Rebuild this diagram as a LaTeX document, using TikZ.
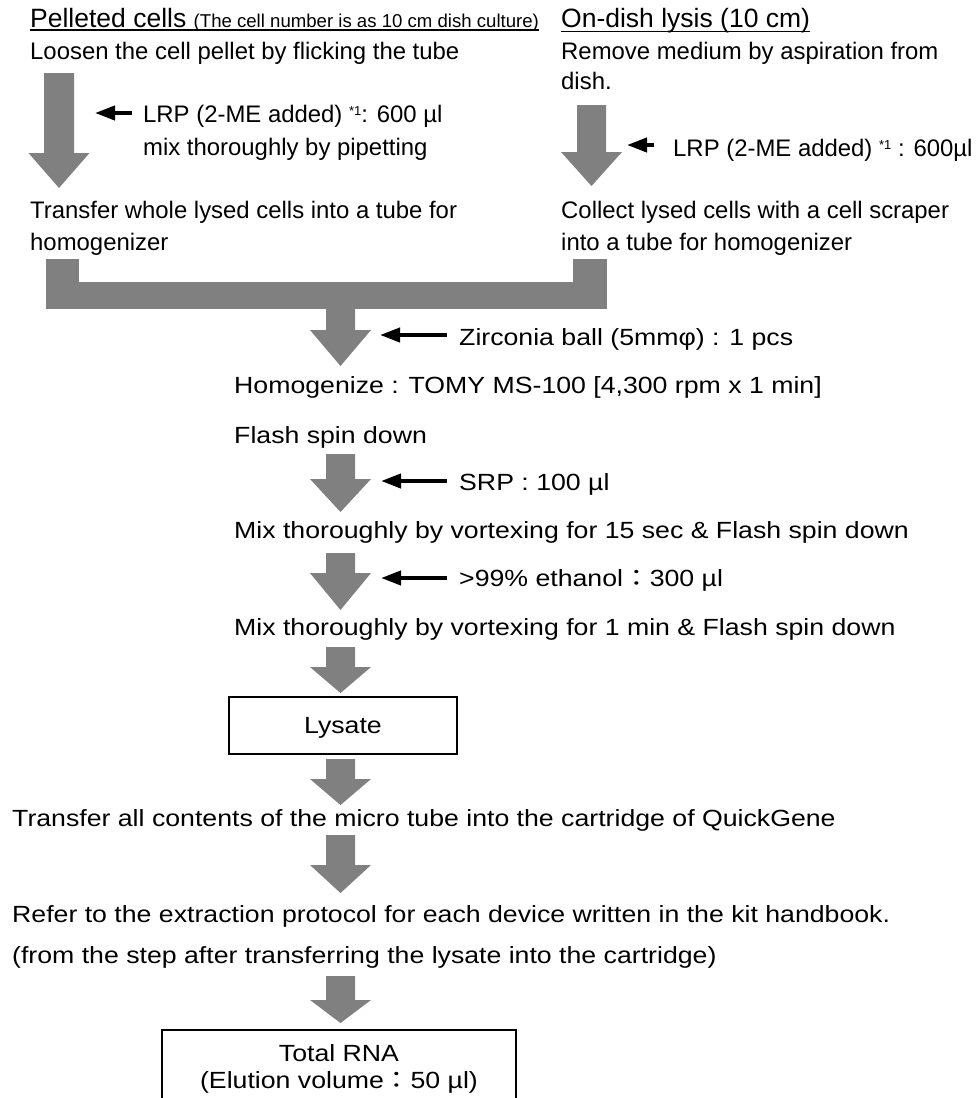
\documentclass[tikz,border=0pt]{standalone}
\usepackage{fontspec}
\setmainfont{Liberation Sans}
\newfontfamily\widesans[FakeStretch=1.14]{Liberation Sans}
\newfontfamily\cjkwide[FakeStretch=1.14]{Noto Sans CJK JP}
\usetikzlibrary{arrows.meta}
\definecolor{arrowgray}{RGB}{128,128,128}
\newcommand\supnote[1]{\raisebox{7pt}{\fontsize{13}{13}\selectfont #1}}
\newcommand\fwcolon{{\cjkwide ：}}
% cx, top, headtop, tip, shaft half width, head half width
\newcommand\blockarrow[6]{%
  \fill[arrowgray] (#1-#5,#2) -- (#1+#5,#2) -- (#1+#5,#3) -- (#1+#6,#3) -- (#1,#4) -- (#1-#6,#3) -- (#1-#5,#3) -- cycle;}
\begin{document}
\begin{tikzpicture}[x=1pt,y=-1pt,
  txt/.style={anchor=base west, inner sep=0pt, font=\fontsize{23.9}{28}\selectfont},
  mtxt/.style={anchor=base west, inner sep=0pt, font=\widesans\fontsize{23.4}{28}\selectfont},
  ctxt/.style={anchor=base, inner sep=0pt, font=\widesans\fontsize{23.4}{28}\selectfont},
  blk/.style={line width=4pt, -{Triangle[length=20pt,width=14pt]}},
  boxed/.style={draw, line width=1.5pt, fill=none}]
\useasboundingbox (0,0) rectangle (978,1098);
\clip (0,0) rectangle (978,1098);
\fill[white] (0,0) rectangle (978,1098);

% headers
\node[txt] (h1) at (30,27) {{\fontsize{26.5}{30}\selectfont Pelleted cells }{\fontsize{18.6}{22}\selectfont (The cell number is as 10 cm dish culture)}};
\draw[line width=1.5pt] ([yshift=-3pt]h1.base west) -- ([yshift=-3pt]h1.base east);
\node[txt] (h2) at (561,27) {\fontsize{26.5}{30}\selectfont On-dish lysis (10 cm)};
\draw[line width=1.5pt] ([yshift=-4.5pt]h2.base west) -- ([yshift=-4.5pt]h2.base east);

% left column
\node[txt] (l1) at (30,59) {Loosen the cell pellet by flicking the tube};
\node[txt] (lrp1) at (143,122.5) {LRP (2-ME added) \supnote{*1}: 600 µl};
\node[txt] (lrp1b) at (143,155) {mix thoroughly by pipetting};
\node[txt] (l2) at (30,218.5) {Transfer whole lysed cells into a tube for};
\node[txt] (l2b) at (30,250) {homogenizer};

% right column
\node[txt] (r1) at (561,59.5) {Remove medium by aspiration from};
\node[txt] (r1b) at (561,89.5) {dish.};
\node[txt] (lrp2) at (673,156) {LRP (2-ME added) \supnote{*1} : 600µl};
\node[txt] (r2) at (561,218.5) {Collect lysed cells with a cell scraper};
\node[txt] (r2b) at (561,250) {into a tube for homogenizer};

% middle
\node[mtxt] (zir) at (459,345) {Zirconia ball (5mmφ) : 1 pcs};
\node[mtxt] (hom) at (234,393.5) {Homogenize : TOMY MS-100 [4,300 rpm x 1 min]};
\node[mtxt] (flash) at (234,443.5) {Flash spin down};
\node[mtxt] (srp) at (459,490.5) {SRP : 100 µl};
\node[mtxt] (mix1) at (234,538.5) {Mix thoroughly by vortexing for 15 sec \& Flash spin down};
\node[mtxt] (eth) at (459,586.5) {>99\% ethanol\fwcolon 300 µl};
\node[mtxt] (mix2) at (234,635) {Mix thoroughly by vortexing for 1 min \& Flash spin down};
\node[boxed, font=\widesans\fontsize{23.4}{28}\selectfont, minimum width=228pt, minimum height=57pt, text depth=0pt, inner sep=0pt] (lys) at (343,725.5) {Lysate};
\node[mtxt] (tr) at (12,826.7) {Transfer all contents of the micro tube into the cartridge of QuickGene};
\node[mtxt] (ref) at (12,922.7) {Refer to the extraction protocol for each device written in the kit handbook.};
\node[mtxt] (from) at (12,963) {(from the step after transferring the lysate into the cartridge)};

% final box
\draw[boxed] (162,1030) rectangle (516,1120);
\node[ctxt] (rna1) at (339,1061) {Total RNA};
\node[ctxt] (rna2) at (339,1088) {(Elution volume\fwcolon 50 µl)};

% gray block arrows
\blockarrow{59}{73}{153}{188}{15}{30.5}
\blockarrow{591.5}{105}{152}{186}{14.5}{30.5}
\fill[arrowgray] (46,259) rectangle (79,309);
\fill[arrowgray] (573,259) rectangle (607,309);
\fill[arrowgray] (46,282) rectangle (607,309);
\blockarrow{340.5}{308}{330}{366}{14.5}{30.5}
\blockarrow{340.5}{454}{479}{512}{14.5}{30.5}
\blockarrow{340.5}{553}{573}{610}{14.5}{30.5}
\blockarrow{340.5}{647}{667}{693}{14.5}{30.5}
\blockarrow{340.5}{759}{779}{805}{14.5}{30.5}
\blockarrow{340.5}{835}{865}{893}{14.5}{30.5}
\blockarrow{340.5}{976}{1000}{1023}{14.5}{30.5}

% black addition arrows
\coordinate (a1t) at (132,113); \coordinate (a1h) at (95,113);
\coordinate (a2t) at (654,145); \coordinate (a2h) at (627,145);
\coordinate (a3t) at (447,335); \coordinate (a3h) at (380,335);
\coordinate (a4t) at (447,481); \coordinate (a4h) at (381,481);
\coordinate (a5t) at (447,578); \coordinate (a5h) at (381,578);
\draw[blk] (a1t) -- (a1h);
\draw[blk] (a2t) -- (a2h);
\draw[blk] (a3t) -- (a3h);
\draw[blk] (a4t) -- (a4h);
\draw[blk] (a5t) -- (a5h);
\end{tikzpicture}
\end{document}
